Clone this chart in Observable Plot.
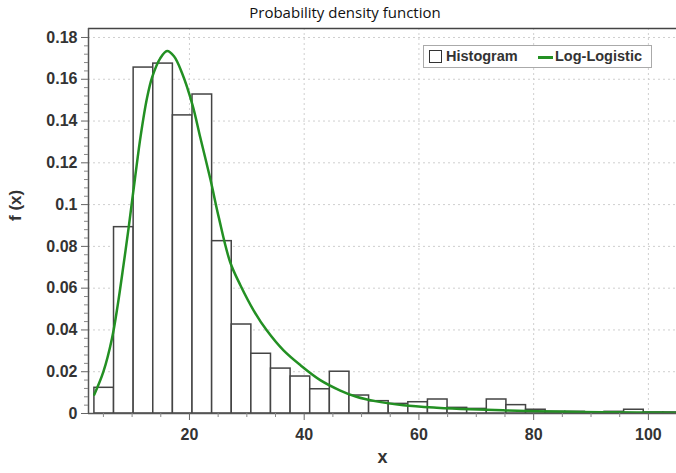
<!DOCTYPE html>
<html>
<head>
<meta charset="utf-8">
<script src="https://cdn.jsdelivr.net/npm/d3@7"></script>
<script src="https://cdn.jsdelivr.net/npm/@observablehq/plot@0.6"></script>
<style>
  body { margin: 0; background: #fff; }
  #wrap { position: relative; width: 676px; height: 473px; overflow: hidden; }
  #title { position: absolute; left: 0; top: 2px; width: 690px; text-align: center;
           font-family: "Open Sans", sans-serif; font-size: 15px; color: #111; }
  #legend { position: absolute; left: 423px; top: 45px; width: 229px; height: 23px; box-sizing: border-box;
            border: 1px solid #aaa; background: #fff; font-family: "Liberation Sans", Arial, sans-serif;
            font-weight: bold; font-size: 14.5px; color: #333; }
  #legend .sq { position: absolute; left: 5px; top: 4px; width: 13px; height: 13px; box-sizing: border-box; border: 1.5px solid #333; background: #fff; }
  #legend .t1 { position: absolute; left: 22px; top: 2px; }
  #legend .ln { position: absolute; left: 114px; top: 10px; width: 15px; height: 3px; background: #239023; }
  #legend .t2 { position: absolute; left: 131px; top: 2px; }
</style>
</head>
<body>
<div id="wrap">
  <div id="chart"></div>
  <div id="title">Probability density function</div>
  <div id="legend"><div class="sq"></div><span class="t1">Histogram</span><div class="ln"></div><span class="t2">Log-Logistic</span></div>
</div>
<script>
// Histogram bin edges (x) and densities
const binEdges = [3.43, 6.85, 10.27, 13.69, 17.11, 20.53, 23.95, 27.37, 30.79, 34.21, 37.63, 41.05, 44.47, 47.89,
  51.31, 54.73, 58.15, 61.57, 64.99, 68.41, 71.83, 75.25, 78.67, 82.09, 85.51, 88.93, 92.35, 95.77, 99.19, 102.61, 106.03];
const binDensity = [0.0123, 0.0892, 0.1656, 0.1675, 0.1427, 0.1527, 0.0825, 0.0426, 0.0286, 0.0215, 0.0177, 0.0116,
  0.0200, 0.0086, 0.0059, 0.0046, 0.0054, 0.0067, 0.0027, 0.0022, 0.0067, 0.0040, 0.0018, 0.0008, 0.0008, 0.0004,
  0.0008, 0.0018, 0.0005, 0.0005];

// Fitted Log-Logistic curve
const curveX = [3.4, 5.0, 6.5, 7.5, 8.5, 9.4, 10.5, 11.5, 12.6, 13.5, 14.9, 16.1, 17.3, 18.7, 20.5, 21.9, 23.7, 25.1,
  27.1, 28.9, 31.2, 33.5, 36.4, 39.4, 42.8, 46.3, 49.1, 52.6, 57.3, 63.1, 68.9, 74.7, 80.5, 86.3, 92.1, 98.0, 106.0];
const curveY = [0.009, 0.020, 0.036, 0.052, 0.071, 0.089, 0.1125, 0.133, 0.151, 0.161, 0.170, 0.1735, 0.171, 0.163,
  0.148, 0.132, 0.1115, 0.094, 0.0724, 0.0613, 0.0493, 0.0397, 0.0302, 0.0230, 0.0160, 0.0110, 0.0080, 0.0058,
  0.0040, 0.0028, 0.0020, 0.0015, 0.0011, 0.0008, 0.0006, 0.0005, 0.0004];

// Tick values
const yTicks = [0, 0.02, 0.04, 0.06, 0.08, 0.1, 0.12, 0.14, 0.16, 0.18];
const yMinor = [0.004, 0.008, 0.012, 0.016, 0.024, 0.028, 0.032, 0.036, 0.044, 0.048, 0.052, 0.056, 0.064, 0.068, 0.072, 0.076,
  0.084, 0.088, 0.092, 0.096, 0.104, 0.108, 0.112, 0.116, 0.124, 0.128, 0.132, 0.136, 0.144, 0.148, 0.152, 0.156,
  0.164, 0.168, 0.172, 0.176];
const xTicks = [20, 40, 60, 80, 100];
const xMinor = [5, 10, 15, 25, 30, 35, 45, 50, 55, 65, 70, 75, 85, 90, 95];

const xDomain = [2.4, 104.9];
const yDomain = [0, 0.1843];

const bins = binDensity.map((d, i) => ({x1: binEdges[i], x2: binEdges[i + 1], y: d}));
const curve = curveX.map((x, i) => ({x, y: curveY[i]}));

const plot = Plot.plot({
  width: 676,
  height: 473,
  marginLeft: 88,
  marginRight: 0,
  marginTop: 28,
  marginBottom: 60,
  x: {domain: xDomain, label: null},
  y: {domain: yDomain, label: null},
  style: {fontFamily: "'Liberation Sans', Arial, sans-serif", fontSize: "16px", fontWeight: "bold", color: "#333", background: "#fff", overflow: "visible"},
  marks: [
    Plot.gridY(yTicks.slice(1), {stroke: "#cfcfcf", strokeOpacity: 1, strokeDasharray: "2,3"}),
    Plot.gridX(xTicks, {stroke: "#cfcfcf", strokeOpacity: 1, strokeDasharray: "2,3"}),
    Plot.rectY(bins, {x1: "x1", x2: "x2", y: "y", fill: "#fff", stroke: "#444", strokeWidth: 1.5, clip: true}),
    Plot.line(curve, {x: "x", y: "y", stroke: "#239023", strokeWidth: 2.5, curve: "catmull-rom", clip: true}),
    Plot.ruleY([yDomain[1]], {stroke: "#444", strokeWidth: 1.5}),
    Plot.ruleX([xDomain[0]], {stroke: "#555", strokeWidth: 1.5}),
    Plot.ruleY([0], {stroke: "#555", strokeWidth: 1.5}),
    Plot.axisY(yTicks, {label: null, tickSize: 7, tickPadding: 4, stroke: "#666", tickFormat: d => String(+d.toFixed(2)), fill: "#333"}),
    Plot.axisY(yMinor, {label: null, tickSize: 4, stroke: "#888", tickFormat: () => ""}),
    Plot.axisX(xTicks, {label: null, tickSize: 7, tickPadding: 8, stroke: "#666", fill: "#333"}),
    Plot.axisX(xMinor, {label: null, tickSize: 4, stroke: "#888", tickFormat: () => ""}),
    Plot.text(["f (x)"], {frameAnchor: "left", dx: -73, rotate: -90, fontSize: 17, fontWeight: "bold", fill: "#333"}),
    Plot.text(["x"], {frameAnchor: "bottom", dy: 49, fontSize: 18, fontWeight: "bold", fill: "#333"})
  ]
});
document.getElementById("chart").appendChild(plot);
</script>
</body>
</html>
